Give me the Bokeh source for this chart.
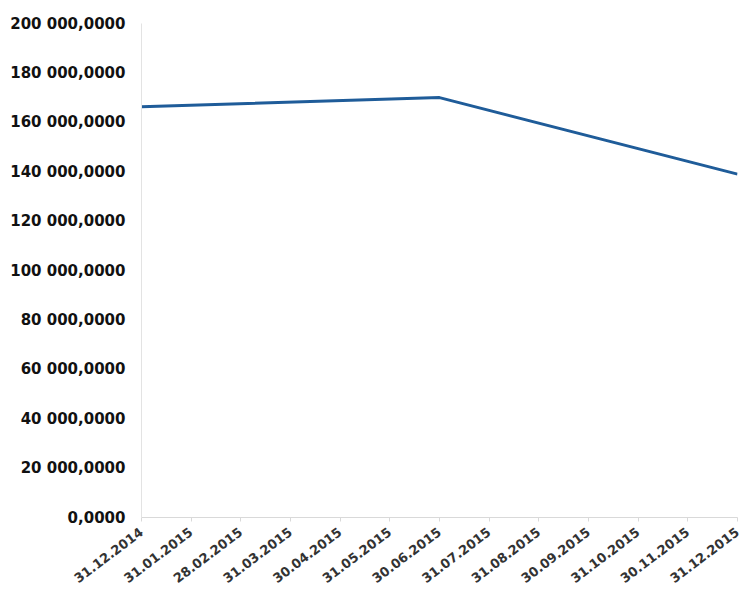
import math
from bokeh.plotting import figure
from bokeh.models import Range1d, FixedTicker
from bokeh.embed import file_html
from bokeh.resources import INLINE

# data
date_labels = ["31.12.2014", "31.01.2015", "28.02.2015", "31.03.2015", "30.04.2015",
               "31.05.2015", "30.06.2015", "31.07.2015", "31.08.2015", "30.09.2015",
               "31.10.2015", "30.11.2015", "31.12.2015"]
point_dates = ["31.12.2014", "30.06.2015", "31.12.2015"]
point_values = [166_300_000, 170_000_000, 139_000_000]
y_ticks = [0, 20_000_000, 40_000_000, 60_000_000, 80_000_000, 100_000_000,
           120_000_000, 140_000_000, 160_000_000, 180_000_000, 200_000_000]
y_tick_labels = ["0,0000", "20 000,0000", "40 000,0000", "60 000,0000", "80 000,0000",
                 "100 000,0000", "120 000,0000", "140 000,0000", "160 000,0000",
                 "180 000,0000", "200 000,0000"]

xs = [date_labels.index(d) for d in point_dates]

p = figure(width=741, height=594, output_backend="svg", toolbar_location=None,
           x_range=Range1d(0, len(date_labels) - 1), y_range=Range1d(0, 200_000_000),
           min_border_left=141, min_border_right=4, min_border_top=23, min_border_bottom=77)

p.line(xs, point_values, line_color="#1f5c99", line_width=3)

p.outline_line_color = None
p.xgrid.grid_line_color = None
p.ygrid.grid_line_color = None

p.xaxis.ticker = FixedTicker(ticks=list(range(len(date_labels))))
p.xaxis.major_label_overrides = {i: lab for i, lab in enumerate(date_labels)}
p.xaxis.major_label_orientation = math.radians(37)
p.xaxis.major_label_text_font = "DejaVu Sans"
p.xaxis.major_label_text_font_style = "bold"
p.xaxis.major_label_text_font_size = "13px"
p.xaxis.major_label_text_color = "#333333"
p.xaxis.major_label_standoff = 9
p.xaxis.axis_line_color = "#d9d9d9"
p.xaxis.major_tick_line_color = "#d9d9d9"
p.xaxis.major_tick_out = 4
p.xaxis.major_tick_in = 0
p.xaxis.minor_tick_line_color = None

p.yaxis.ticker = FixedTicker(ticks=y_ticks)
p.yaxis.major_label_overrides = {t: lab for t, lab in zip(y_ticks, y_tick_labels)}
p.yaxis.major_label_text_font = "DejaVu Sans"
p.yaxis.major_label_text_font_style = "bold"
p.yaxis.major_label_text_font_size = "15px"
p.yaxis.major_label_text_color = "#111111"
p.yaxis.axis_line_color = "#e3e3e3"
p.yaxis.major_tick_line_color = None
p.yaxis.minor_tick_line_color = None
p.yaxis.major_label_standoff = 10

open("out.html", "w").write(file_html(p, INLINE))
